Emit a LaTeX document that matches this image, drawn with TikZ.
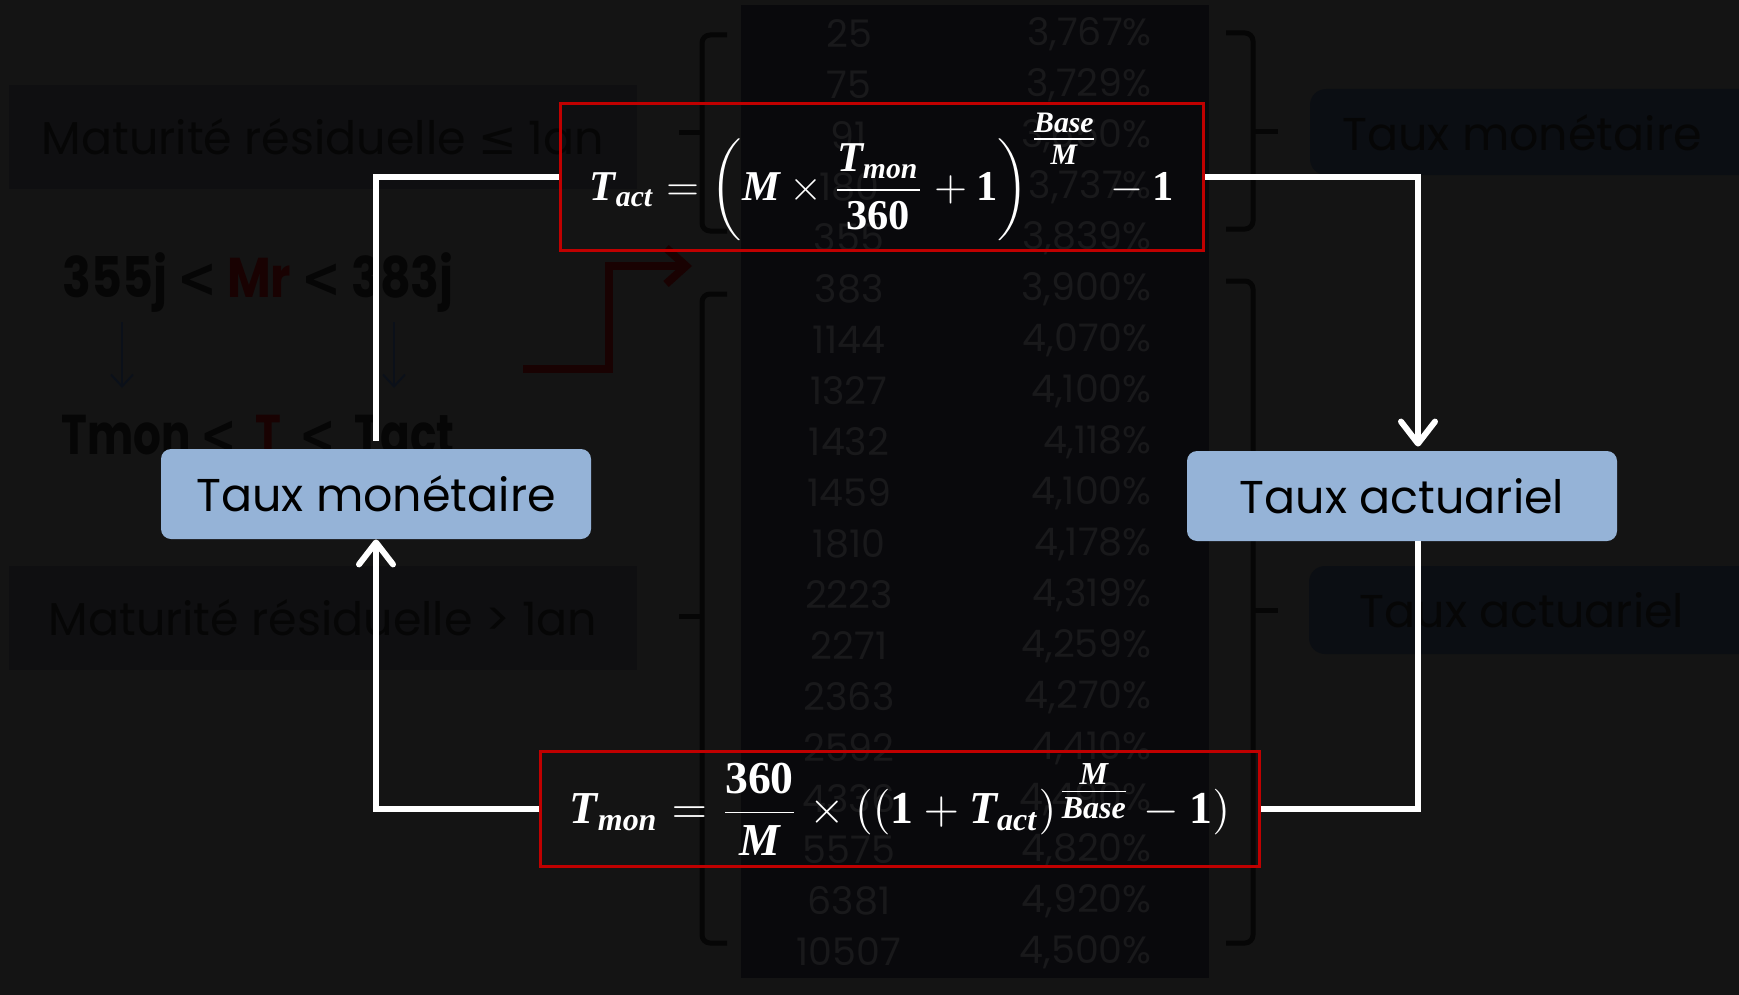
\documentclass[tikz,border=0pt]{standalone}
\usepackage{fontspec}
\setmainfont{Poppins}
\newfontfamily\symbfont{DejaVu Sans}
\newfontfamily\formfont{Liberation Serif}
\usepackage{amsmath}
\usepackage{graphicx}
\usetikzlibrary{arrows.meta}

\newcommand{\fvar}[1]{\text{\formfont\bfseries\itshape #1}}
\newcommand{\fnum}[1]{\text{\formfont\bfseries #1}}

\definecolor{bgcol}{HTML}{141414}
\definecolor{colcol}{HTML}{09090C}
\definecolor{numcol}{HTML}{19191B}
\definecolor{shadecol}{HTML}{0F0F11}
\definecolor{inkcol}{HTML}{060606}
\definecolor{tagcol}{HTML}{0B0E13}
\definecolor{boxblue}{HTML}{95B3D7}
\definecolor{formred}{HTML}{C00000}
\definecolor{darkred}{HTML}{190202}
\definecolor{arrowink}{HTML}{0B1019}

\tikzset{
  bluebox/.style={fill=boxblue, rounded corners=5pt, minimum width=215pt, minimum height=45pt, text=black, font=\fontsize{23}{28}\selectfont},
  formbox/.style={draw=formred, line width=1.5pt, text=white, inner sep=0pt},
  link/.style={white, line width=3pt},
  linkarrow/.style={link, -{Straight Barb[length=11pt, width=17pt, round]}},
  numtxt/.style={text=numcol, font=\fontsize{19}{23}\selectfont, inner sep=0pt},
  shadebox/.style={fill=shadecol, minimum width=314pt, minimum height=52pt, text=inkcol, font=\fontsize{23}{27}\selectfont},
  tagtxt/.style={text=inkcol, font=\fontsize{23}{28}\selectfont},
  brace/.style={inkcol, line width=2.5pt, rounded corners=4pt},
  ineq/.style={text=inkcol, font=\bfseries\fontsize{28}{32}\selectfont},
}

\begin{document}
\begin{tikzpicture}[x=0.5pt, y=-0.5pt]
  \fill[bgcol] (0,0) rectangle (1739,995);
  \clip (0,0) rectangle (1739,995);

  % faded slide underneath
  \fill[colcol] (741,5) rectangle (1209,978);
  \foreach \d/\p [count=\i from 0] in {25/{3,767\%}, 75/{3,729\%}, 91/{3,650\%}, 180/{3,737\%},
      355/{3,839\%}, 383/{3,900\%}, 1144/{4,070\%}, 1327/{4,100\%}, 1432/{4,118\%},
      1459/{4,100\%}, 1810/{4,178\%}, 2223/{4,319\%}, 2271/{4,259\%}, 2363/{4,270\%},
      2592/{4,410\%}, 4336/{4,490\%}, 5575/{4,820\%}, 6381/{4,920\%}, 10507/{4,500\%}}{
    \node[numtxt] (d\i) at (849,{34+51*\i}) {\d};
    \node[numtxt, anchor=east] (p\i) at (1152,{34+51*\i}) {\p};
  }

  \draw[brace] (727,35) -| (702,231) -- (727,231);
  \draw[brace] (702,133) -- (679,133);
  \draw[brace] (727,294) -| (702,943) -- (727,943);
  \draw[brace] (702,616) -- (679,616);
  \draw[brace] (1226,33) -| (1253,229) -- (1226,229);
  \draw[brace] (1253,132) -- (1278,132);
  \draw[brace] (1226,281) -| (1253,943) -- (1226,943);
  \draw[brace] (1253,610) -- (1278,610);

  \node[shadebox] (short) at (323,137) {Maturité résiduelle {\symbfont ≤} 1an};
  \node[shadebox] (long) at (323,618) {Maturité résiduelle > 1an};

  \fill[tagcol, rounded corners=8pt] (1310,89) rectangle (1760,175);
  \node[tagtxt] (tagmon) at (1522,133) {Taux monétaire};
  \fill[tagcol, rounded corners=8pt] (1309,566) rectangle (1760,654);
  \node[tagtxt] (tagact) at (1522,610) {Taux actuariel};

  \node[ineq] (range) at (258,283) {\scalebox{0.85}[1]{355j {\symbfont <} \textcolor{darkred}{Mr} {\symbfont <} 383j}};
  \node[ineq] (order) at (258,435) {\scalebox{0.78}[1]{Tmon {\symbfont <}\ \ \textcolor{darkred}{T}\ \ {\symbfont <}\ \ Tact}};
  \coordinate (lo1) at (122,322);
  \coordinate (lo2) at (122,388);
  \coordinate (hi1) at (394,322);
  \coordinate (hi2) at (394,388);
  \draw[arrowink, line width=1pt, -{Straight Barb[length=6pt, width=11pt]}] (lo1) -- (lo2);
  \draw[arrowink, line width=1pt, -{Straight Barb[length=6pt, width=11pt]}] (hi1) -- (hi2);

  \coordinate (bend) at (523,369);
  \coordinate (bendtip) at (692,266);
  \draw[darkred, line width=4pt, -{Straight Barb[length=10pt, width=18pt]}] (bend) -| (609,266) -- (bendtip);

  % the two rates and the formulas between them
  \node[bluebox] (mon) at (376,494) {Taux monétaire};
  \node[bluebox] (act) at (1402,496) {Taux actuariel};

  \node[formbox, minimum width=321.5pt, minimum height=73.5pt] (ftop) at (882,177)
    {\resizebox{292pt}{!}{$\displaystyle \fvar{T}_{\fvar{act}}=\left(\fvar{M}\times\frac{\fvar{T}_{\fvar{mon}}}{\fnum{360}}+\fnum{1}\right)^{\tfrac{\fvar{Base}}{\fvar{M}}}-\fnum{1}$}};
  \node[formbox, minimum width=359.5pt, minimum height=57.5pt] (fbot) at (900,809)
    {\resizebox{330pt}{!}{$\displaystyle \fvar{T}_{\fvar{mon}}=\frac{\fnum{360}}{\fvar{M}}\times((\fnum{1}+\fvar{T}_{\fvar{act}})^{\tfrac{\fvar{M}}{\fvar{Base}}}-\fnum{1})$}};

  \coordinate (rcol) at (1418,0);
  \draw[link, shorten >=4pt] (ftop.west) -| (mon.north);
  \draw[linkarrow, shorten >=2pt] (ftop.east) -| (rcol |- act.north);
  \draw[link] (rcol |- act.south) |- (fbot.east);
  \draw[linkarrow] (fbot.west) -| (mon.south);

\end{tikzpicture}
\end{document}
